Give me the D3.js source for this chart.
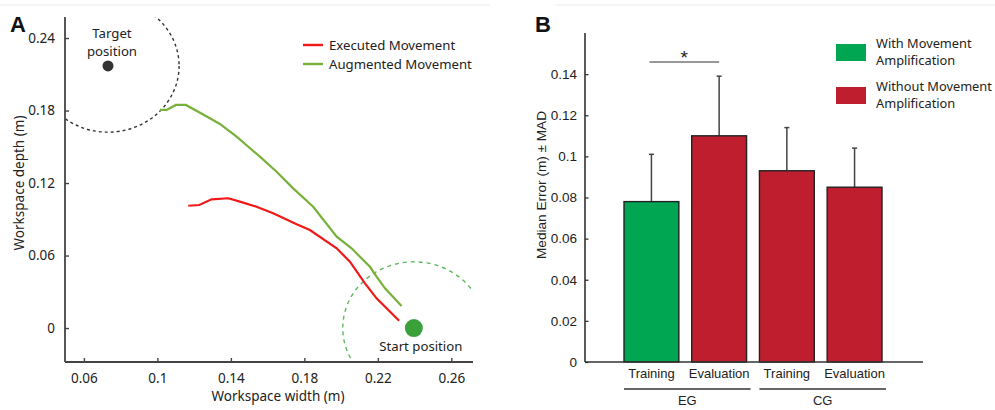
<!DOCTYPE html>
<html>
<head>
<meta charset="utf-8">
<script src="https://cdn.jsdelivr.net/npm/d3@7"></script>
<style>
  html, body { margin: 0; padding: 0; background: #fff; }
  svg { display: block; }
</style>
</head>
<body>
<svg id="fig" width="995" height="410"></svg>
<script>
// ---------- Panel A: hand trajectories (metres) ----------
const executedX = [0.1168, 0.1228, 0.1295, 0.1386, 0.1449, 0.1540, 0.1630, 0.1758, 0.1830, 0.1976, 0.2048, 0.2130, 0.2193, 0.2316];
const executedY = [0.1012, 0.1018, 0.1065, 0.1074, 0.1046, 0.1004, 0.0950, 0.0858, 0.0811, 0.0660, 0.0549, 0.0370, 0.0246, 0.0060];
const augmentedX = [0.1014, 0.1050, 0.1101, 0.1155, 0.1286, 0.1340, 0.1431, 0.1558, 0.1649, 0.1739, 0.1848, 0.1976, 0.2057, 0.2157, 0.2193, 0.2239, 0.2329];
const augmentedY = [0.1805, 0.1805, 0.1846, 0.1846, 0.1736, 0.1689, 0.1584, 0.1418, 0.1294, 0.1156, 0.1004, 0.0756, 0.0660, 0.0507, 0.0425, 0.0329, 0.0182];
const targetPos = [0.0731, 0.2169];
const startPos = [0.2396, 0.0];
const zoneRadiusX = 0.0387;   // tolerance zone, horizontal radius (m)
const zoneRadiusY = 0.0548;   // tolerance zone, vertical radius (m)
const xTicksA = [0.06, 0.1, 0.14, 0.18, 0.22, 0.26];
const yTicksA = [0, 0.06, 0.12, 0.18, 0.24];
const legendA = ["Executed Movement", "Augmented Movement"];

// ---------- Panel B: median error per condition ----------
const conditions = ["Training", "Evaluation", "Training ", "Evaluation "];
const conditionLabels = ["Training", "Evaluation", "Training", "Evaluation"];
const groups = ["EG", "CG"];
const medianError = [0.078, 0.110, 0.093, 0.085];
const madError = [0.023, 0.029, 0.021, 0.019];
const amplified = [true, false, false, false];
const yTicksB = [0, 0.02, 0.04, 0.06, 0.08, 0.1, 0.12, 0.14];
const legendB = [["With Movement", "Amplification"], ["Without Movement", "Amplification"]];

const svg = d3.select("#fig");
const fontA = "'Noto Sans', 'Open Sans', sans-serif";
const fontB = "'Liberation Sans', Arial, sans-serif";
const sizeA = 13.2;
const RED = "#f01919", GREEN = "#78b03c";
const BAR_GREEN = "#00a651", BAR_RED = "#be1e2d";

// faint header rule
svg.append("line").attr("x1", 0).attr("x2", 490).attr("y1", 5).attr("y2", 5)
  .attr("stroke", "#f1f1f1").attr("stroke-width", 1.5);
svg.append("line").attr("x1", 555).attr("x2", 995).attr("y1", 5).attr("y2", 5)
  .attr("stroke", "#f1f1f1").attr("stroke-width", 1.5);

// ================= Panel A =================
const A = { left: 65, right: 473, top: 17, bottom: 362 };
const xA = d3.scaleLinear().domain([0.0497, 0.2718]).range([A.left, A.right]);
const yA = d3.scaleLinear().domain([-0.0281, 0.2574]).range([A.bottom, A.top]);

const gA = svg.append("g");
gA.append("defs").append("clipPath").attr("id", "clipA")
  .append("rect").attr("x", A.left).attr("y", A.top)
  .attr("width", A.right - A.left).attr("height", A.bottom - A.top);

const plotA = gA.append("g").attr("clip-path", "url(#clipA)");

// tolerance zones
plotA.append("ellipse")
  .attr("cx", xA(targetPos[0])).attr("cy", yA(targetPos[1]))
  .attr("rx", xA(targetPos[0] + zoneRadiusX) - xA(targetPos[0]))
  .attr("ry", yA(targetPos[1]) - yA(targetPos[1] + zoneRadiusY))
  .attr("fill", "none").attr("stroke", "#333").attr("stroke-width", 1.4)
  .attr("stroke-dasharray", "3,3");
plotA.append("ellipse")
  .attr("cx", xA(startPos[0])).attr("cy", yA(startPos[1]))
  .attr("rx", xA(startPos[0] + zoneRadiusX) - xA(startPos[0]))
  .attr("ry", yA(startPos[1]) - yA(startPos[1] + zoneRadiusY))
  .attr("fill", "none").attr("stroke", "#5cb85c").attr("stroke-width", 1.4)
  .attr("stroke-dasharray", "4,4");

// trajectories
const lineA = d3.line().x(d => xA(d[0])).y(d => yA(d[1]));
plotA.append("path").datum(d3.zip(augmentedX, augmentedY)).attr("d", lineA)
  .attr("fill", "none").attr("stroke", GREEN).attr("stroke-width", 2.2);
plotA.append("path").datum(d3.zip(executedX, executedY)).attr("d", lineA)
  .attr("fill", "none").attr("stroke", RED).attr("stroke-width", 2.2);

// target and start markers
plotA.append("circle").attr("cx", xA(targetPos[0])).attr("cy", yA(targetPos[1]))
  .attr("r", 5.5).attr("fill", "#333");
plotA.append("circle").attr("cx", xA(startPos[0])).attr("cy", yA(startPos[1]))
  .attr("r", 9).attr("fill", "#3aa13a");

gA.append("text").attr("x", xA(targetPos[0]) + 4).attr("y", 38)
  .attr("text-anchor", "middle").attr("font-family", fontA).attr("font-size", sizeA)
  .attr("fill", "#222").text("Target");
gA.append("text").attr("x", xA(targetPos[0]) + 4).attr("y", 56)
  .attr("text-anchor", "middle").attr("font-family", fontA).attr("font-size", sizeA)
  .attr("fill", "#222").text("position");
gA.append("text").attr("x", xA(startPos[0]) + 7).attr("y", 351)
  .attr("text-anchor", "middle").attr("font-family", fontA).attr("font-size", sizeA)
  .attr("fill", "#222").text("Start position");

// axes (ticks pointing inward)
const axA_x = gA.append("g").attr("transform", `translate(0,${A.bottom})`)
  .call(d3.axisBottom(xA).tickValues(xTicksA).tickSizeInner(-4).tickSizeOuter(0)
    .tickPadding(11).tickFormat(d3.format("~g")));
const axA_y = gA.append("g").attr("transform", `translate(${A.left},0)`)
  .call(d3.axisLeft(yA).tickValues(yTicksA).tickSizeInner(-4).tickSizeOuter(0)
    .tickPadding(10).tickFormat(d3.format("~g")));
[axA_x, axA_y].forEach(ax => {
  ax.select(".domain").attr("stroke", "#444").attr("stroke-width", 1.8);
  ax.selectAll(".tick line").attr("stroke", "#444").attr("stroke-width", 1.4);
  ax.selectAll(".tick text").attr("font-family", fontA).attr("font-size", 13.5).attr("fill", "#222");
});
axA_x.select(".domain").attr("d", `M${A.left},0H${A.right}`);
axA_y.select(".domain").attr("d", `M0,${A.top}V${A.bottom}`);

gA.append("text").attr("x", 278).attr("y", 401)
  .attr("text-anchor", "middle").attr("font-family", fontA).attr("font-size", 13.5)
  .attr("fill", "#222").text("Workspace width (m)");
gA.append("text").attr("transform", `translate(24,183) rotate(-90)`)
  .attr("text-anchor", "middle").attr("font-family", fontA).attr("font-size", 13.5)
  .attr("fill", "#222").text("Workspace depth (m)");

// legend
legendA.forEach((name, i) => {
  const y = 45 + i * 19;
  gA.append("line").attr("x1", 303).attr("x2", 323).attr("y1", y).attr("y2", y)
    .attr("stroke", i === 0 ? RED : GREEN).attr("stroke-width", 2.4);
  gA.append("text").attr("x", 329).attr("y", y + 4.5)
    .attr("font-family", fontA).attr("font-size", sizeA).attr("fill", "#222").text(name);
});

gA.append("text").attr("x", 10).attr("y", 32).attr("font-family", fontB)
  .attr("font-weight", "bold").attr("font-size", 22).attr("fill", "#111").text("A");

// ================= Panel B =================
const B = { left: 585, right: 923, top: 33, bottom: 362 };
const xB = d3.scaleBand().domain(conditions).range([624, 882]).paddingInner(0.19).paddingOuter(0);
const yB = d3.scaleLinear().domain([0, 0.16]).range([B.bottom, B.top]);
const gB = svg.append("g");

// error bars (upper half only)
conditions.forEach((c, i) => {
  const cx = xB(c) + xB.bandwidth() / 2;
  gB.append("line").attr("x1", cx).attr("x2", cx)
    .attr("y1", yB(medianError[i])).attr("y2", yB(medianError[i] + madError[i]))
    .attr("stroke", "#444").attr("stroke-width", 1.5);
  gB.append("line").attr("x1", cx - 2.5).attr("x2", cx + 2.5)
    .attr("y1", yB(medianError[i] + madError[i])).attr("y2", yB(medianError[i] + madError[i]))
    .attr("stroke", "#444").attr("stroke-width", 1.5);
});

gB.selectAll("rect.bar").data(conditions).join("rect").attr("class", "bar")
  .attr("x", d => xB(d)).attr("width", xB.bandwidth())
  .attr("y", (d, i) => yB(medianError[i]))
  .attr("height", (d, i) => yB(0) - yB(medianError[i]))
  .attr("fill", (d, i) => amplified[i] ? BAR_GREEN : BAR_RED)
  .attr("stroke", "#222").attr("stroke-width", 1.4);

// axes
const axB_y = gB.append("g").attr("transform", `translate(${B.left},0)`)
  .call(d3.axisLeft(yB).tickValues(yTicksB).tickSizeInner(-3.5).tickSizeOuter(0)
    .tickPadding(8).tickFormat(d3.format("~g")));
axB_y.select(".domain").attr("d", `M0,${B.top}V${B.bottom}`).attr("stroke", "#333").attr("stroke-width", 1.6);
axB_y.selectAll(".tick line").attr("stroke", "#333").attr("stroke-width", 1.3);
axB_y.selectAll(".tick text").attr("font-family", fontB).attr("font-size", 13.5).attr("fill", "#222");

gB.append("line").attr("x1", B.left).attr("x2", B.right).attr("y1", B.bottom).attr("y2", B.bottom)
  .attr("stroke", "#333").attr("stroke-width", 1.6);

conditions.forEach((c, i) => {
  gB.append("text").attr("x", xB(c) + xB.bandwidth() / 2).attr("y", 378)
    .attr("text-anchor", "middle").attr("font-family", fontB).attr("font-size", 13)
    .attr("fill", "#222").text(conditionLabels[i]);
});

// group brackets
groups.forEach((g, gi) => {
  const a = conditions[gi * 2], b = conditions[gi * 2 + 1];
  const x1 = xB(a), x2 = xB(b) + xB.bandwidth() + 4;
  gB.append("line").attr("x1", x1).attr("x2", x2).attr("y1", 389).attr("y2", 389)
    .attr("stroke", "#333").attr("stroke-width", 1.3);
  gB.append("text").attr("x", (x1 + x2) / 2).attr("y", 405)
    .attr("text-anchor", "middle").attr("font-family", fontB).attr("font-size", 13)
    .attr("fill", "#222").text(g);
});

// significance marker between EG training and evaluation
const s1 = xB(conditions[0]) + xB.bandwidth() / 2 - 2;
const s2 = xB(conditions[1]) + xB.bandwidth() / 2;
gB.append("line").attr("x1", s1).attr("x2", s2).attr("y1", 62).attr("y2", 62)
  .attr("stroke", "#333").attr("stroke-width", 1.2);
gB.append("text").attr("x", (s1 + s2) / 2).attr("y", 64).attr("text-anchor", "middle")
  .attr("font-family", fontB).attr("font-size", 19).attr("fill", "#222").text("*");

gB.append("text").attr("transform", `translate(546,185) rotate(-90)`)
  .attr("text-anchor", "middle").attr("font-family", fontB).attr("font-size", 13.6)
  .attr("fill", "#222").text("Median Error (m) \u00b1 MAD");

// legend
legendB.forEach((lines, i) => {
  const y0 = 44 + i * 43;
  gB.append("rect").attr("x", 836).attr("y", y0).attr("width", 30).attr("height", 17)
    .attr("fill", i === 0 ? BAR_GREEN : BAR_RED);
  lines.forEach((t, j) => {
    gB.append("text").attr("x", 876).attr("y", y0 + 4 + j * 17)
      .attr("font-family", fontA).attr("font-size", 12.8).attr("fill", "#222").text(t);
  });
});

gB.append("text").attr("x", 535).attr("y", 32).attr("font-family", fontB)
  .attr("font-weight", "bold").attr("font-size", 22).attr("fill", "#111").text("B");
</script>
</body>
</html>
